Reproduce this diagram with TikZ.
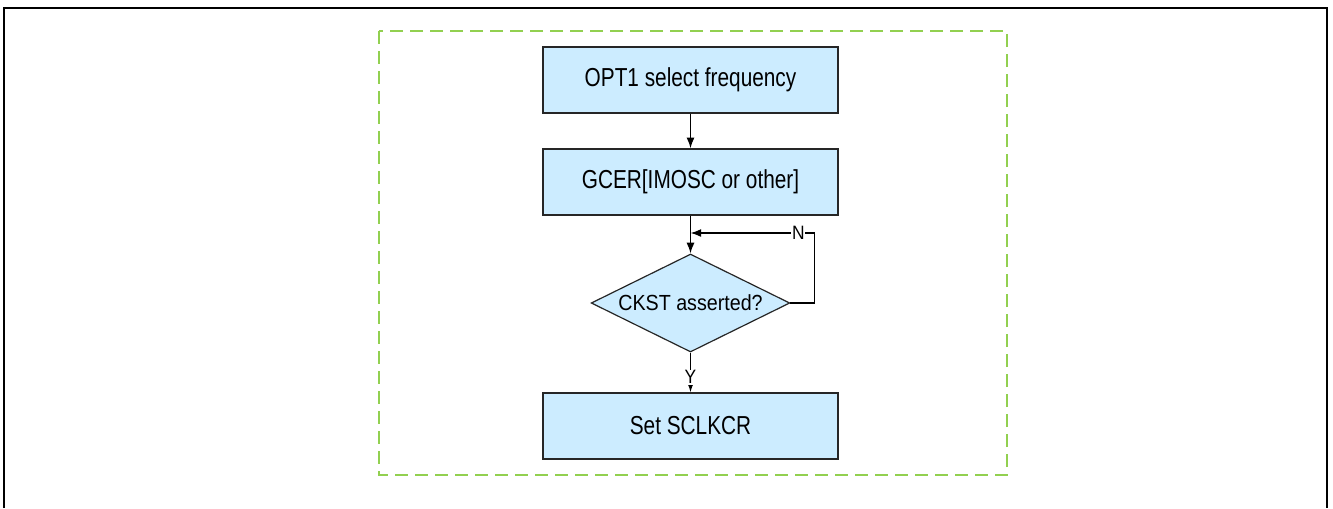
\documentclass[tikz,border=0pt]{standalone}
\usepackage{fontspec}
\setmainfont{Liberation Sans}
\newfontfamily\boxfont{Liberation Sans}[FakeStretch=0.8]
\newfontfamily\condfont{Liberation Sans}[FakeStretch=0.9]
\usetikzlibrary{arrows,arrows.meta,shapes.geometric}
\definecolor{boxblue}{RGB}{204,236,255}
\definecolor{framegreen}{RGB}{146,208,80}

\begin{document}
\begin{tikzpicture}[x=0.75pt,y=-0.75pt]
	\tikzstyle{stage}=[rectangle, minimum width=221pt, minimum height=49.5pt, inner sep=0pt, draw=black!85, line width=1.1pt, fill=boxblue, font=\boxfont\fontsize{19.5}{22}\selectfont]
	\tikzstyle{check}=[diamond, minimum width=149pt, minimum height=73.5pt, inner sep=0pt, aspect=2, draw=black!85, line width=0.9pt, fill=boxblue, font=\condfont\fontsize{16.4}{19}\selectfont]
	\tikzstyle{connect}=[-{Latex[length=8pt,width=6pt]}, line width=1.05pt]
	\tikzstyle{answer}=[fill=white, inner sep=0.6pt, font=\condfont\fontsize{14.5}{16}\selectfont]
	\useasboundingbox (0,0) rectangle (1333,508);
	% page frame and group outline
	\draw[line width=1.5pt] (4,508) -- (4,8) -- (1327,8) -- (1327,508);
	\draw[framegreen, line width=1.2pt, dash pattern=on 9.75pt off 5.25pt] (379,31) rectangle (1007,475);
	  \node[stage] (opt) at (690.5,80) {OPT1 select frequency};
	  \node[stage] (gcer) [below of=opt, node distance=76.5pt] {GCER[IMOSC or other]};
	  \node[check] (ckst) [below of=gcer, node distance=90.75pt] {CKST asserted?};
	  \node[stage] (sclk) [below of=ckst, node distance=92.25pt] {Set SCLKCR};
	  \coordinate (merge) at (690.5,233);
	  \path
	    (opt) edge [connect] (gcer)
	    (gcer) edge [connect] (ckst);
	  \draw[connect] (ckst.east) -- ++(24,0) |- (merge) node[answer, pos=0.565] {N};
	  \draw[connect] (ckst.south) -- (sclk.north) node[answer, pos=0.62] {Y};
\end{tikzpicture}
\end{document}
